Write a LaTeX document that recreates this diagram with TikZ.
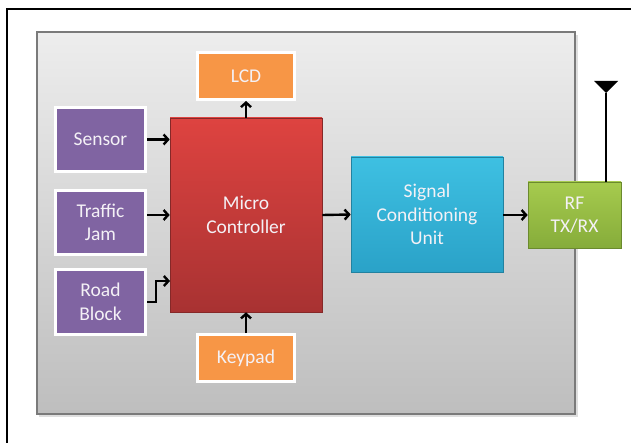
\documentclass[tikz,border=0pt]{standalone}
\usepackage{fontspec}
\setmainfont{Carlito}
\usetikzlibrary{arrows.meta,calc}
\definecolor{purp}{HTML}{8064A2}
\definecolor{orng}{HTML}{F79646}
\definecolor{redtop}{HTML}{DE4340}
\definecolor{redbot}{HTML}{A83232}
\definecolor{bluetop}{HTML}{3EC0E2}
\definecolor{bluebot}{HTML}{2AA2C8}
\definecolor{grntop}{HTML}{A6CB4E}
\definecolor{grnbot}{HTML}{86AC3A}
\definecolor{paneltop}{HTML}{EDEDED}
\definecolor{panelbot}{HTML}{BEBEBE}
\definecolor{panelline}{HTML}{7A7A7A}
\definecolor{txt}{HTML}{F4F1F6}
\tikzset{
  blocktext/.style={font=\fontsize{19.5}{23.5}\selectfont, text=txt, align=center, inner sep=0pt},
  pbox/.style={blocktext, draw=white, line width=3pt, fill=purp, minimum width=90pt, minimum height=64pt},
  obox/.style={blocktext, draw=white, line width=3pt, fill=orng, minimum width=97pt, minimum height=47pt},
  mcbox/.style={blocktext, draw=redbot!80!black, line width=0.6pt, top color=redtop, bottom color=redbot, minimum width=152pt, minimum height=194pt},
  scbox/.style={blocktext, draw=bluebot!80!black, line width=0.6pt, top color=bluetop, bottom color=bluebot, minimum width=152pt, minimum height=115pt},
  rfbox/.style={blocktext, draw=grnbot!80!black, line width=0.6pt, top color=grntop, bottom color=grnbot, minimum width=93pt, minimum height=66pt},
  conn/.style={line width=2.4pt, -{Straight Barb[length=4.5pt,width=10pt]}},
}
\begin{document}
\begin{tikzpicture}[x=1pt,y=-1pt]
\useasboundingbox (0,0) rectangle (631,443);
\clip (0,0) rectangle (631,443);
\fill[white] (0,0) rectangle (631,443);
% outer frame
\draw[line width=2pt] (7,9) rectangle (680,480);
% panel
\fill[black!25, opacity=0.5] (39,35) rectangle (578,417);
\draw[draw=panelline, line width=1.5pt, top color=paneltop, bottom color=panelbot] (37,32) rectangle (575,414);
% blocks
\node[pbox] (sensor) at (100.5,139.5) {Sensor};
\node[pbox] (traffic) at (100.5,222.5) {Traffic\\Jam};
\node[pbox] (road) at (100.5,302) {Road\\Block};
\node[mcbox] (mc) at (246,215) {Micro\\Controller};
\node[obox] (lcd) at (246,76) {LCD};
\node[obox] (keypad) at (246,358) {Keypad};
\node[scbox] (scu) at (427,214.5) {Signal\\Conditioning\\Unit};
\node[rfbox] (rf) at (574.5,215) {RF\\TX/RX};
% connectors
\coordinate (rbin) at (170,281);
\draw[conn] (sensor.east) -- (sensor.east -| mc.west);
\draw[conn] (traffic.east |- mc.west) -- (mc.west);
\draw[conn] (road.east) -- ++(9,0) |- (rbin);
\draw[conn] (mc.north) -- (lcd.south);
\draw[conn] (keypad.north) -- (mc.south);
\draw[conn] (mc.east) -- (scu.west);
\draw[conn] (scu.east |- rf.west) -- (rf.west);
% antenna
\coordinate (anttip) at (606,93);
\draw[line width=2.2pt] (anttip) -- (rf.north -| anttip);
\fill (594,81) -- (618,81) -- (anttip) -- cycle;
\end{tikzpicture}
\end{document}
